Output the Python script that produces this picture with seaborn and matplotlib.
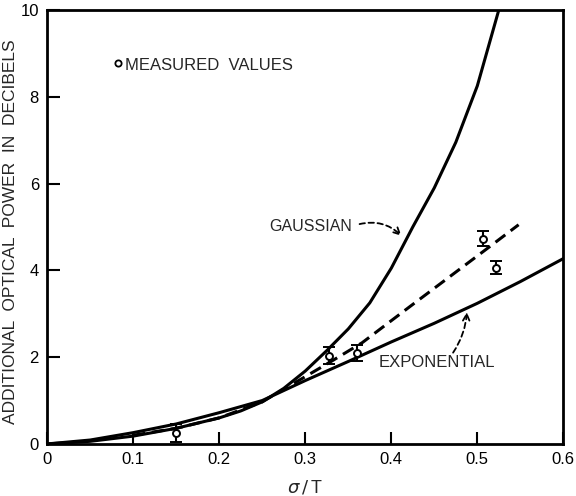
import numpy as np
import pandas as pd
import matplotlib
matplotlib.use("Agg")
import matplotlib.pyplot as plt
import seaborn as sns

# Data
gauss_x = [0.0, 0.05, 0.1, 0.15, 0.2, 0.225, 0.25, 0.275, 0.3, 0.325, 0.35,
           0.375, 0.4, 0.425, 0.45, 0.475, 0.5, 0.525]
gauss_y = [0.0, 0.06, 0.18, 0.36, 0.6, 0.76, 0.97, 1.28, 1.68, 2.15, 2.65,
           3.25, 4.05, 5.0, 5.9, 6.95, 8.25, 10.0]

expo_x = [0.0, 0.05, 0.1, 0.15, 0.2, 0.25, 0.3, 0.35, 0.4, 0.45, 0.5, 0.55, 0.6]
expo_y = [0.0, 0.09, 0.26, 0.46, 0.72, 1.0, 1.46, 1.9, 2.35, 2.78, 3.24, 3.74, 4.27]

fit_x = [0.1, 0.15, 0.2, 0.25, 0.3, 0.33, 0.366, 0.424, 0.51, 0.548]
fit_y = [0.2, 0.36, 0.6, 0.97, 1.55, 1.9, 2.33, 3.2, 4.48, 5.05]

meas_x = [0.15, 0.327, 0.36, 0.507, 0.522]
meas_y = [0.25, 2.03, 2.1, 4.73, 4.06]
meas_err = [0.2, 0.2, 0.18, 0.18, 0.15]

x_ticks = [0, 0.1, 0.2, 0.3, 0.4, 0.5, 0.6]
x_tick_labels = ["0", "0.1", "0.2", "0.3", "0.4", "0.5", "0.6"]
y_ticks = [0, 2, 4, 6, 8, 10]
y_tick_labels = ["0", "2", "4", "6", "8", "10"]

sns.set_theme(style="ticks")
plt.rcParams['font.family'] = ['Liberation Sans', 'DejaVu Sans']

fig = plt.figure(figsize=(5.76, 4.96), dpi=100)
ax = fig.add_axes([0.082, 0.105, 0.896, 0.875])

df_g = pd.DataFrame({"x": gauss_x, "y": gauss_y})
df_e = pd.DataFrame({"x": expo_x, "y": expo_y})
df_f = pd.DataFrame({"x": fit_x, "y": fit_y})

sns.lineplot(data=df_g, x="x", y="y", ax=ax, color="black", lw=2.2)
sns.lineplot(data=df_e, x="x", y="y", ax=ax, color="black", lw=2.2)
sns.lineplot(data=df_f, x="x", y="y", ax=ax, color="black", lw=2.2,
             linestyle=(0, (4, 2.2)))

ax.errorbar(meas_x, meas_y, yerr=meas_err, fmt="o", mfc="white", mec="black",
            ms=5, mew=1.4, ecolor="black", elinewidth=1.5, capsize=4,
            capthick=1.5, zorder=5)

ax.set_xlim(0, 0.6)
ax.set_ylim(0, 10)
ax.set_xticks(x_ticks)
ax.set_xticklabels(x_tick_labels)
ax.set_yticks(y_ticks)
ax.set_yticklabels(y_tick_labels)
ax.tick_params(direction="in", length=9, width=1.5, labelsize=12, colors="black",
               pad=6)
for s in ax.spines.values():
    s.set_linewidth(2)
    s.set_color("black")

ax.set_xlabel(r"$\sigma\,/\,$T", fontsize=13, labelpad=8)
ax.set_ylabel("ADDITIONAL  OPTICAL  POWER  IN  DECIBELS", fontsize=12.5)
ax.yaxis.set_label_coords(-0.057, 0.49)

# legend-like annotation
ax.plot([0.082], [8.78], "o", mfc="white", mec="black", ms=4.5, mew=1.3)
ax.text(0.09, 8.72, "MEASURED  VALUES", fontsize=12, va="center", ha="left")

ax.text(0.258, 5.0, "GAUSSIAN", fontsize=11.5, va="center", ha="left")
ax.annotate("", xy=(0.414, 4.75), xytext=(0.36, 5.05),
            arrowprops=dict(arrowstyle="->", color="black", lw=1.3,
                            linestyle=(0, (3, 2)),
                            connectionstyle="arc3,rad=-0.3"))

ax.text(0.385, 1.87, "EXPONENTIAL", fontsize=12, va="center", ha="left")
ax.annotate("", xy=(0.488, 3.1), xytext=(0.47, 2.05),
            arrowprops=dict(arrowstyle="->", color="black", lw=1.3,
                            linestyle=(0, (3, 2)),
                            connectionstyle="arc3,rad=0.15"))

fig.savefig("out.png", dpi=100)
